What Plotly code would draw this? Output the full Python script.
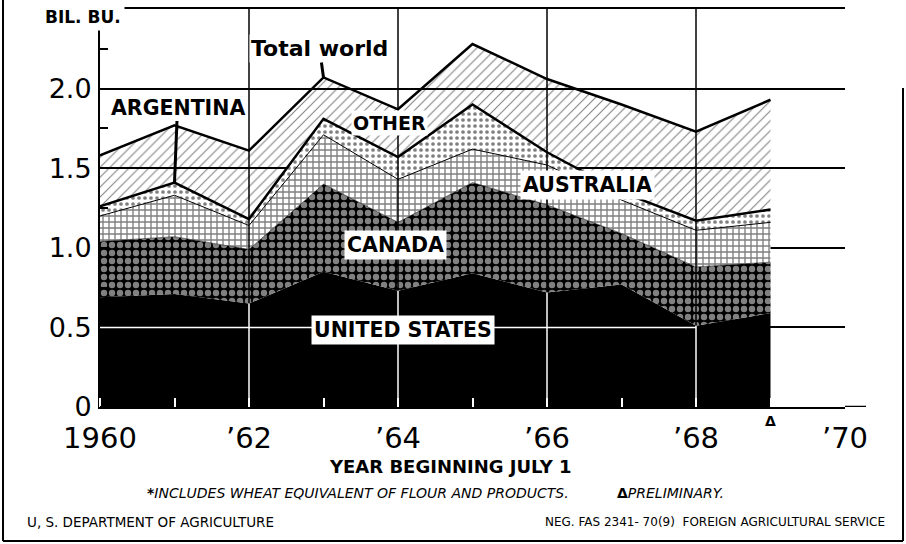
import plotly.graph_objects as go

# ---------------- data (billion bushels, year beginning July 1) ----------------
years = [1960, 1961, 1962, 1963, 1964, 1965, 1966, 1967, 1968, 1969]
united_states = [0.69, 0.71, 0.65, 0.85, 0.73, 0.84, 0.72, 0.77, 0.51, 0.59]
canada        = [0.35, 0.36, 0.34, 0.55, 0.43, 0.57, 0.55, 0.32, 0.37, 0.32]
australia     = [0.16, 0.26, 0.15, 0.31, 0.27, 0.21, 0.25, 0.21, 0.23, 0.25]
argentina     = [0.06, 0.08, 0.04, 0.10, 0.14, 0.28, 0.08, 0.05, 0.06, 0.08]
other         = [0.32, 0.36, 0.43, 0.26, 0.30, 0.38, 0.46, 0.55, 0.56, 0.69]

x_tick_vals = [1960, 1962, 1964, 1966, 1968, 1970]
x_tick_text = ["1960", "’62", "’64", "’66", "’68", "’70"]
y_tick_vals = [0, 0.5, 1.0, 1.5, 2.0]
y_tick_text = ["0", "0.5", "1.0", "1.5", "2.0"]

# derived
total = [a + b + c + d + e for a, b, c, d, e in zip(united_states, canada, australia, argentina, other)]
argentina_top = [a + b + c + d for a, b, c, d in zip(united_states, canada, australia, argentina)]

# ---------------- layout geometry helpers (pixels -> paper) ----------------
W, H = 906, 544
ML, MR, MT, MB = 100, 61, 9, 137
PW, PH = W - ML - MR, H - MT - MB


def px(xp):
    return (xp - ML) / PW


def py(yp):
    return (H - MB - yp) / PH


FONT = "DejaVu Sans"

fig = go.Figure()

series = [
    ("UNITED STATES", united_states, dict(color="black", width=0), dict(fillcolor="black")),
    ("CANADA", canada, dict(color="black", width=0.5),
     dict(fillpattern=dict(shape=".", fgcolor="white", bgcolor="black", size=8, solidity=0.5))),
    ("AUSTRALIA", australia, dict(color="black", width=1),
     dict(fillpattern=dict(shape="+", fgcolor="black", bgcolor="white", size=6, solidity=0.4))),
    ("ARGENTINA", argentina, dict(color="black", width=2.5),
     dict(fillpattern=dict(shape=".", fgcolor="black", bgcolor="white", size=6, solidity=0.3))),
    ("OTHER", other, dict(color="black", width=2.5),
     dict(fillcolor="rgba(0,0,0,0)",
          fillpattern=dict(shape="/", fgcolor="black", bgcolor="rgba(0,0,0,0)", size=7, solidity=0.15))),
]

for name, vals, line, fillstyle in series:
    fig.add_trace(go.Scatter(
        x=years, y=vals, name=name, mode="lines", stackgroup="one",
        line=line, showlegend=False, hoverinfo="skip", **fillstyle))

shapes = []
# vertical grid lines drawn over the fills: black above US area, white inside it
for yr in [1962, 1964, 1966, 1968]:
    u = united_states[years.index(yr)]
    shapes.append(dict(type="line", xref="x", yref="y", x0=yr, x1=yr, y0=u, y1=2.5,
                       line=dict(color="black", width=1.5), layer="above"))
    shapes.append(dict(type="line", xref="x", yref="y", x0=yr, x1=yr, y0=0, y1=u,
                       line=dict(color="white", width=1.5), layer="above"))
# white 0.5 grid line across the black US area
shapes.append(dict(type="line", xref="x", yref="y", x0=1960, x1=1968, y0=0.5, y1=0.5,
                   line=dict(color="white", width=1.5), layer="above"))
# extension of the bottom axis to the right
shapes.append(dict(type="line", xref="paper", yref="y", x0=1, x1=px(866), y0=0, y1=0,
                   line=dict(color="black", width=2.5), layer="above"))
# outer frame
shapes.append(dict(type="line", xref="paper", yref="paper", x0=px(3), x1=px(3), y0=py(541), y1=py(0),
                   line=dict(color="black", width=2)))
shapes.append(dict(type="line", xref="paper", yref="paper", x0=px(903), x1=px(903), y0=py(541), y1=py(88),
                   line=dict(color="black", width=2)))
shapes.append(dict(type="line", xref="paper", yref="paper", x0=px(3), x1=px(903), y0=py(541), y1=py(541),
                   line=dict(color="black", width=2)))

label_font = dict(family=FONT, size=20.5, color="black")
annotations = [
    dict(x=1963, y=total[years.index(1963)], xref="x", yref="y", text="<b>Total world</b>",
         showarrow=True, ax=-4, ay=-29, arrowhead=0, arrowwidth=3, arrowcolor="black",
         font=dict(family=FONT, size=22, color="black"), bgcolor="white", borderpad=1),
    dict(x=1961, y=argentina_top[years.index(1961)], xref="x", yref="y", text="<b>ARGENTINA</b>",
         showarrow=True, ax=3, ay=-75, arrowhead=0, arrowwidth=3, arrowcolor="black",
         font=label_font, bgcolor="white", borderpad=1),
    dict(x=1963.88, y=1.785, xref="x", yref="y", text="<b>OTHER</b>", showarrow=False,
         font=dict(family=FONT, size=19, color="black"), bgcolor="white", borderpad=1),
    dict(x=1966.55, y=1.395, xref="x", yref="y", text="<b>AUSTRALIA</b>", showarrow=False,
         font=label_font, bgcolor="white", borderpad=2),
    dict(x=1963.96, y=1.018, xref="x", yref="y", text="<b>CANADA</b>", showarrow=False,
         font=label_font, bgcolor="white", borderpad=2),
    dict(x=1964.07, y=0.484, xref="x", yref="y", text="<b>UNITED STATES</b>", showarrow=False,
         font=label_font, bgcolor="white", borderpad=2),
    dict(x=px(83), y=py(17), xref="paper", yref="paper", xanchor="center", yanchor="middle",
         text="<b>BIL. BU.</b>", showarrow=False,
         font=dict(family=FONT, size=17, color="black"), bgcolor="white", borderpad=3),
    dict(x=px(450), y=py(466), xref="paper", yref="paper", xanchor="center", yanchor="middle",
         text="<b>YEAR BEGINNING JULY 1</b>",
         showarrow=False, font=dict(family=FONT, size=18, color="black")),
    dict(x=px(145), y=py(493), xref="paper", yref="paper", xanchor="left", yanchor="middle",
         text="<b>*</b><i>INCLUDES WHEAT EQUIVALENT OF FLOUR AND PRODUCTS.</i>",
         showarrow=False, font=dict(family=FONT, size=14, color="black")),
    dict(x=px(615), y=py(493), xref="paper", yref="paper", xanchor="left", yanchor="middle",
         text="<b>Δ</b><i>PRELIMINARY.</i>",
         showarrow=False, font=dict(family=FONT, size=14, color="black")),
    dict(x=px(25), y=py(522), xref="paper", yref="paper", xanchor="left", yanchor="middle",
         text="U, S. DEPARTMENT OF AGRICULTURE",
         showarrow=False, font=dict(family=FONT, size=13.5, color="black")),
    dict(x=px(887), y=py(522), xref="paper", yref="paper", xanchor="right", yanchor="middle",
         text="NEG. FAS 2341- 70(9)  FOREIGN AGRICULTURAL SERVICE",
         showarrow=False, font=dict(family=FONT, size=12, color="black")),
    dict(x=years[-1], y=0, xref="x", yref="y", xanchor="center", yanchor="top", yshift=-4,
         text="<b>Δ</b>", showarrow=False, font=dict(family=FONT, size=14, color="black")),
]

fig.update_layout(
    width=W, height=H,
    margin=dict(l=ML, r=MR, t=MT, b=MB, pad=0, autoexpand=False),
    paper_bgcolor="white", plot_bgcolor="white",
    font=dict(family=FONT, color="black"),
    showlegend=False,
    shapes=shapes,
    annotations=annotations,
    xaxis=dict(
        range=[1960, 1970], tickvals=x_tick_vals, ticktext=x_tick_text,
        tickfont=dict(family=FONT, size=29, color="black"),
        showgrid=False, zeroline=False, showline=True, linecolor="black", linewidth=2,
        mirror=True, ticks="", ticklabelstandoff=4, automargin=False,
        minor=dict(ticks="inside", dtick=1, tick0=1961, ticklen=9, tickwidth=1.5, tickcolor="white"),
        fixedrange=True,
    ),
    yaxis=dict(
        range=[0, 2.5], tickvals=y_tick_vals, ticktext=y_tick_text,
        tickfont=dict(family=FONT, size=27, color="black"),
        showgrid=True, gridcolor="black", gridwidth=1.5, zeroline=False,
        showline=True, linecolor="black", linewidth=2, ticks="", ticklabelstandoff=1,
        automargin=False,
        minor=dict(ticks="inside", dtick=0.25, tick0=0.25, ticklen=8, tickwidth=1.5, tickcolor="black"),
        fixedrange=True,
    ),
    yaxis2=dict(
        range=[0, 2.5], overlaying="y", side="right", anchor="x", automargin=False,
        showgrid=False, zeroline=False, showticklabels=False,
        showline=True, linecolor="black", linewidth=2,
        ticks="inside", tick0=0.25, dtick=0.5, ticklen=12, tickwidth=1.5, tickcolor="black",
        fixedrange=True,
    ),
)

fig.write_html(
    "out.html",
    config={"displayModeBar": False},
    post_script="document.body.style.margin='0';document.body.style.overflow='hidden';",
)
